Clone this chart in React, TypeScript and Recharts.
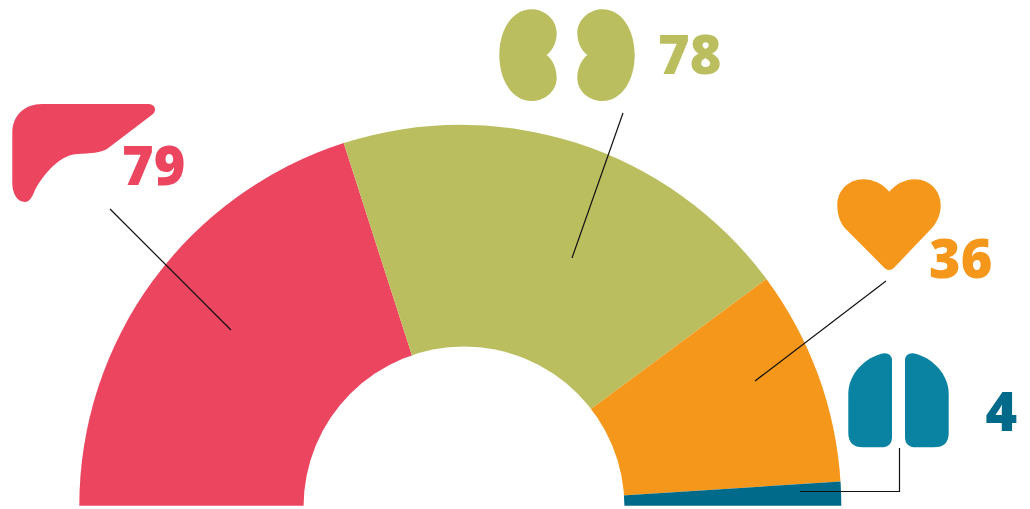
import { Cell, Pie, PieChart } from "recharts";

const organs = ["Liver", "Kidney", "Heart", "Lung"];
const counts = [79, 78, 36, 4];
const sliceColors = ["#ec455f", "#bbbe5f", "#f5971a", "#006a8a"];
const hole = [{ name: "hole", value: 1 }];

const data = organs.map((name, i) => ({ name, value: counts[i] }));

const FONT = "'Open Sans', sans-serif";

function Count({ x, y, value, fill }: { x: number; y: number; value: number; fill: string }) {
  return (
    <text x={x} y={y} fill={fill} fontFamily={FONT} fontWeight={800} fontSize={54} textAnchor="start">
      {value}
    </text>
  );
}

const leaders = [
  "M110 209 L231 330",
  "M623 113 L572 258",
  "M886 281 L755 381",
  "M800 491.5 L899.5 491.5 L899.5 448",
];

const kidney =
  "M546.7 55 C553 50 556.7 42 556.7 33 C556.7 20 545 9.3 531.7 9.3 C512 9.3 499.3 30 499.3 55 C499.3 80 512 101 531.7 101 C545 101 556.7 91 556.7 78 C556.7 69 553 60 546.7 55 Z";
const lung =
  "M892 361 Q892 353 884 353.3 C865 357 848.3 374 848.3 394 L848.3 433 Q848.3 447.3 863 447.3 L881 447.3 Q892 447.3 892 437 Z";

export default function App() {
  return (
    <div style={{ position: "absolute", left: 0, top: 0, width: 1030, height: 509 }}>
      <PieChart width={1030} height={509} margin={{ top: 0, right: 0, bottom: 0, left: 0 }}>
        <Pie
          data={data}
          dataKey="value"
          nameKey="name"
          cx={460.3}
          cy={505.8}
          startAngle={180}
          endAngle={0}
          innerRadius={0}
          outerRadius={381}
          paddingAngle={0}
          stroke="none"
          isAnimationActive={false}
        >
          {data.map((entry, i) => (
            <Cell key={entry.name} fill={sliceColors[i]} />
          ))}
        </Pie>
        {/* the hole sits a few px right of the slices' centre in the original */}
        <Pie
          data={hole}
          dataKey="value"
          cx={464}
          cy={507}
          startAngle={180}
          endAngle={0}
          innerRadius={0}
          outerRadius={160.5}
          fill="#ffffff"
          stroke="none"
          isAnimationActive={false}
        />

        {/* liver */}
        <path
          d="M12.3 133 C12.3 115 25 104 42 104 L148 104 C155 104 157 110 153 114 L107 149 C100 153 93 153 75 154.3 C60 156 45 172 35 190 C32 198 29 202 25 202 C17 202 12.3 193 12.3 183 Z"
          fill={sliceColors[0]}
        />
        {/* kidneys */}
        <path d={kidney} fill={sliceColors[1]} />
        <path d={kidney} fill={sliceColors[1]} transform="translate(1134 0) scale(-1 1)" />
        {/* heart */}
        <path
          d="M889.3 191.7 C896 184 905 179.3 915 179.3 C930 179.3 940.7 191 940.7 205 C940.7 215 937 222 931.7 228.3 L895 266.7 C891 271 887 271 883.3 266.7 L845 228.3 C840 222 837.3 215 837.3 205 C837.3 191 848 179.3 863.3 179.3 C873 179.3 883 184 889.3 191.7 Z"
          fill={sliceColors[2]}
        />
        {/* lungs */}
        <path d={lung} fill="#0a83a3" />
        <path d={lung} fill="#0a83a3" transform="translate(1797 0) scale(-1 1)" />

        <Count x={122} y={185} value={counts[0]} fill={sliceColors[0]} />
        <Count x={658} y={74} value={counts[1]} fill={sliceColors[1]} />
        <Count x={929} y={278} value={counts[2]} fill={sliceColors[2]} />
        <Count x={985.5} y={431} value={counts[3]} fill={sliceColors[3]} />
      </PieChart>

      {/* leader lines have to sit on top of the slices */}
      <svg width={1030} height={509} style={{ position: "absolute", left: 0, top: 0, pointerEvents: "none" }}>
        {leaders.map((d) => (
          <path key={d} d={d} fill="none" stroke="#111" strokeWidth={1.2} />
        ))}
      </svg>
    </div>
  );
}
